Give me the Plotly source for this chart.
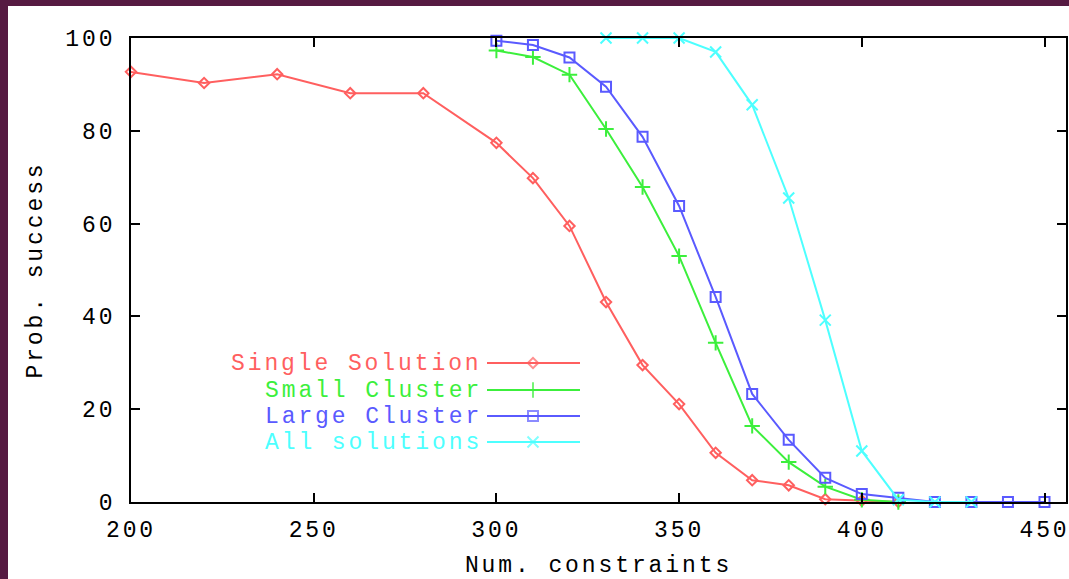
import plotly.graph_objects as go

# ---- data ----
single_x = [200, 220, 240, 260, 280, 300, 310, 320, 330, 340, 350, 360, 370, 380, 390, 400, 410]
single_y = [92.7, 90.3, 92.2, 88.1, 88.1, 77.4, 69.8, 59.5, 43.1, 29.5, 21.1, 10.6, 4.7, 3.6, 0.6, 0.3, 0.0]

small_x = [300, 310, 320, 330, 340, 350, 360, 370, 380, 390, 400, 410]
small_y = [97.3, 95.9, 92.1, 80.4, 67.9, 53.0, 34.3, 16.4, 8.6, 3.3, 0.5, 0.0]

large_x = [300, 310, 320, 330, 340, 350, 360, 370, 380, 390, 400, 410, 420, 430, 440, 450]
large_y = [99.4, 98.5, 95.8, 89.5, 78.7, 63.8, 44.2, 23.3, 13.4, 5.2, 1.7, 0.9, 0.0, 0.0, 0.0, 0.0]

all_x = [330, 340, 350, 360, 370, 380, 390, 400, 410, 420, 430]
all_y = [100.0, 100.0, 100.0, 97.0, 85.6, 65.5, 39.2, 11.0, 0.5, 0.0, 0.0]

names = ["Single Solution", "Small Cluster", "Large Cluster", "All solutions"]
colors = ["#ff5f5f", "#3cef3c", "#5a5aff", "#4dffff"]
symbols = ["diamond-open", "cross-thin-open", "square-open", "x-thin-open"]
msizes = [8, 11, 10, 11]

x_ticks = [200, 250, 300, 350, 400, 450]
y_ticks = [0, 20, 40, 60, 80, 100]

FONT = "Liberation Mono"
FS = 23
SP = "letter-spacing:2.9px"
W, H = 1069, 579
L, R, T, B = 131, 1066, 38, 502  # plot area in pixels


def sp(t):
    return f'<span style="{SP}">{t}</span>'


series = [(single_x, single_y), (small_x, small_y), (large_x, large_y), (all_x, all_y)]

fig = go.Figure()
for (xs, ys), nm, c, s, ms in zip(series, names, colors, symbols, msizes):
    fig.add_trace(go.Scatter(
        x=xs, y=ys, name=nm, mode="lines+markers",
        line=dict(color=c, width=2),
        marker=dict(symbol=s, size=ms, color=c, line=dict(color=c, width=2)),
        showlegend=False, cliponaxis=False,
    ))

# ---- manual gnuplot-style legend (overlay axes in pixel units) ----
leg_rows = [363, 390, 416, 442]
for i, (nm, c, s, ms) in enumerate(zip(names, colors, symbols, msizes)):
    yy = leg_rows[i]
    fig.add_trace(go.Scatter(
        x=[487, 533, 580], y=[yy, yy, yy], mode="lines+markers",
        xaxis="x2", yaxis="y2",
        line=dict(color=c, width=2),
        marker=dict(symbol=s, size=[0, ms, 0], color=c, line=dict(color=c, width=2)),
        showlegend=False, hoverinfo="skip",
    ))
    fig.add_annotation(
        x=484, y=yy, xref="x2", yref="y2", text=sp(nm), showarrow=False,
        xanchor="right", yanchor="middle", yshift=-1,
        font=dict(family=FONT, size=FS, color=c),
    )

pw, ph = R - L, B - T
fig.update_layout(
    width=W, height=H,
    margin=dict(l=L, r=W - R, t=T, b=H - B, pad=0, autoexpand=False),
    paper_bgcolor="#561a42",
    plot_bgcolor="white",
    font=dict(family=FONT, size=FS, color="black"),
    xaxis=dict(
        automargin=False, ticklabeloverflow="allow",
        range=[200, 200 + (R - L) / 3.654], tickvals=x_ticks,
        ticktext=[sp(v) for v in x_ticks],
        showline=True, linecolor="black", linewidth=2, mirror="allticks",
        ticks="inside", ticklen=9, tickwidth=2, tickcolor="black",
        showgrid=False, zeroline=False,
        tickfont=dict(family=FONT, size=FS, color="black"),
        ticklabelstandoff=5,
        title=dict(text=sp("Num. constraints"), font=dict(family=FONT, size=FS, color="black"), standoff=25),
    ),
    yaxis=dict(
        automargin=False, ticklabeloverflow="allow",
        range=[0, 100], tickvals=y_ticks,
        ticktext=[sp(v) for v in y_ticks],
        showline=True, linecolor="black", linewidth=2, mirror="allticks",
        ticks="inside", ticklen=9, tickwidth=2, tickcolor="black",
        showgrid=False, zeroline=False,
        tickfont=dict(family=FONT, size=FS, color="black"),
        ticklabelstandoff=9,
        title=dict(text=sp("Prob. success"), font=dict(family=FONT, size=FS, color="black"), standoff=16),
    ),
    xaxis2=dict(overlaying="x", range=[L, R], visible=False, fixedrange=True, automargin=False),
    yaxis2=dict(overlaying="y", range=[B, T], visible=False, fixedrange=True, automargin=False),
    shapes=[dict(
        type="rect", xref="paper", yref="paper", layer="below",
        x0=(8 - L) / pw, x1=(W + 5 - L) / pw,
        y0=(B - (H + 5)) / ph, y1=(B - 6) / ph,
        fillcolor="white", line=dict(width=0),
    )],
)

fig.write_html("out.html")
